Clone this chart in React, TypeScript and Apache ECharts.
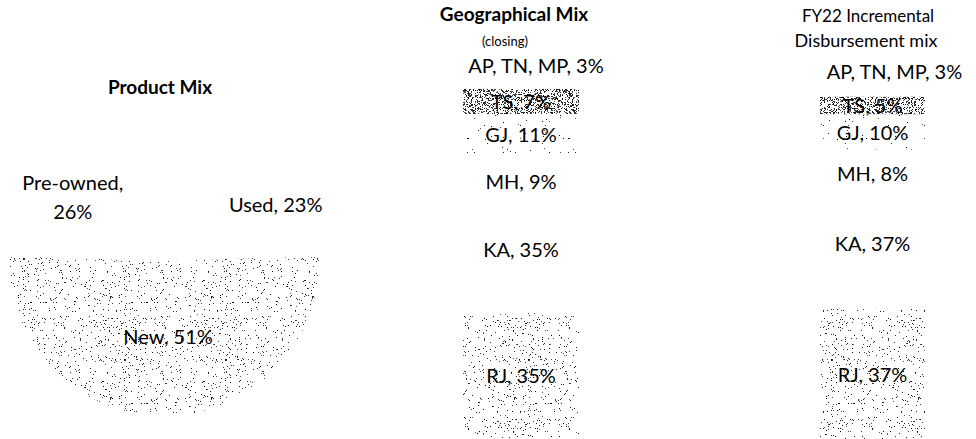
import React, { useEffect, useRef } from 'react';
import * as echarts from 'echarts';

// ---- data ----
const productCategories = ['New', 'Pre-owned', 'Used'];
const productValues = [51, 26, 23];

// stacked from bottom to top
const regionNames = ['RJ', 'KA', 'MH', 'GJ', 'TS', 'AP, TN, MP'];
const geoMixValues = [35, 35, 9, 11, 7, 3];
const disbMixValues = [37, 37, 8, 10, 5, 3];
const barCategories = ['Geographical Mix (closing)', 'FY22 Incremental Disbursement mix'];

const FONT = 'Lato, "Open Sans", sans-serif';

// deterministic hash-based stipple texture (a fill pattern, not data)
function hash(x: number, y: number, seed: number) {
  let h = (x * 374761393 + y * 668265263 + seed * 2147483647) | 0;
  h = (h ^ (h >>> 13)) * 1274126177;
  h = h ^ (h >>> 16);
  return ((h >>> 0) % 100000) / 100000;
}
function stipple(density: number, seed: number, size = 101) {
  const c = document.createElement('canvas');
  c.width = size;
  c.height = size;
  const ctx = c.getContext('2d')!;
  ctx.fillStyle = '#ffffff';
  ctx.fillRect(0, 0, size, size);
  for (let y = 0; y < size; y++) {
    for (let x = 0; x < size; x++) {
      const r = hash(x, y, seed);
      if (r < density) {
        const g = Math.floor(hash(y, x, seed + 7) * 90);
        ctx.fillStyle = `rgb(${g},${g},${g})`;
        ctx.fillRect(x, y, 1, 1);
      }
    }
  }
  return { image: c, repeat: 'repeat' } as any;
}

export default function App() {
  const ref = useRef<HTMLDivElement>(null);

  useEffect(() => {
    if (!ref.current) return;
    const chart = echarts.init(ref.current, undefined, { renderer: 'svg' });

    const mediumFill = stipple(0.042, 3);
    const denseFill = stipple(0.32, 11);
    const sparseFill = stipple(0.014, 5);
    const regionFills: any[] = [mediumFill, '#ffffff', '#ffffff', sparseFill, denseFill, '#ffffff'];

    const pieLabelShift: Record<string, [number, number]> = {
      New: [4, -6],
      'Pre-owned': [-38, -4],
      Used: [53, -2],
    };

    const barSeries: any[] = [];
    [geoMixValues, disbMixValues].forEach((vals, g) => {
      vals.forEach((v, i) => {
        const name = regionNames[i];
        const isTop = i === regionNames.length - 1;
        let offset: [number, number] = [0, 0];
        if (isTop) offset = g === 0 ? [15, 2] : [22, 0];
        if (name === 'MH') offset = g === 0 ? [0, 11] : [0, 9];
        barSeries.push({
          type: 'bar',
          name: name,
          xAxisIndex: g,
          yAxisIndex: g,
          stack: 'mix' + g,
          barWidth: '100%',
          data: [v],
          silent: true,
          itemStyle: { color: regionFills[i] },
          label: {
            show: true,
            position: isTop ? 'top' : 'inside',
            distance: 5,
            offset,
            formatter: (p: any) => `${name}, ${p.value}%`,
            color: '#000',
            fontSize: 20,
            fontFamily: FONT,
          },
        });
      });
    });

    const option: any = {
      animation: false,
      backgroundColor: '#ffffff',
      grid: [
        { left: 463, top: 78, width: 116, height: 360 },
        { left: 820, top: 86, width: 105, height: 360 },
      ],
      xAxis: [
        { gridIndex: 0, type: 'category', data: [barCategories[0]], show: false },
        { gridIndex: 1, type: 'category', data: [barCategories[1]], show: false },
      ],
      yAxis: [
        { gridIndex: 0, type: 'value', min: 0, max: 100, show: false },
        { gridIndex: 1, type: 'value', min: 0, max: 100, show: false },
      ],
      graphic: [
        {
          type: 'text', x: 160, y: 86,
          style: { text: 'Product Mix', font: `bold 19px ${FONT}`, fill: '#000', textAlign: 'center', textVerticalAlign: 'middle' },
        },
        {
          type: 'text', x: 514, y: 13,
          style: { text: 'Geographical Mix', font: `bold 19px ${FONT}`, fill: '#000', textAlign: 'center', textVerticalAlign: 'middle' },
        },
        {
          type: 'text', x: 505, y: 41,
          style: { text: '(closing)', font: `13px ${FONT}`, fill: '#000', textAlign: 'center', textVerticalAlign: 'middle' },
        },
        {
          type: 'text', x: 868, y: 15,
          style: { text: 'FY22 Incremental', font: `17px ${FONT}`, fill: '#000', textAlign: 'center', textVerticalAlign: 'middle' },
        },
        {
          type: 'text', x: 866, y: 40,
          style: { text: 'Disbursement mix', font: `18px ${FONT}`, fill: '#000', textAlign: 'center', textVerticalAlign: 'middle' },
        },
      ],
      series: [
        {
          type: 'pie',
          center: [164, 261],
          radius: [0, 155],
          startAngle: 1.8,
          clockwise: true,
          silent: true,
          data: productCategories.map((n, i) => ({
            name: n,
            value: productValues[i],
            itemStyle: { color: i === 0 ? mediumFill : '#ffffff' },
          })),
          itemStyle: { borderWidth: 0 },
          label: {
            show: true,
            position: 'inside',
            formatter: (p: any) =>
              p.name === 'Pre-owned' ? `${p.name},\n${p.value}%` : `${p.name}, ${p.value}%`,
            color: '#000',
            fontSize: 20,
            lineHeight: 29,
            align: 'center',
            fontFamily: FONT,
          },
          labelLine: { show: false },
          labelLayout: (params: any) => {
            const name = productCategories[params.dataIndex];
            const s = pieLabelShift[name] || [0, 0];
            return { dx: s[0], dy: s[1] };
          },
        },
        ...barSeries,
      ],
    };

    chart.setOption(option);
    return () => chart.dispose();
  }, []);

  return (
    <div
      ref={ref}
      style={{ position: 'fixed', left: 0, top: 0, width: 976, height: 439, background: '#fff' }}
    />
  );
}
